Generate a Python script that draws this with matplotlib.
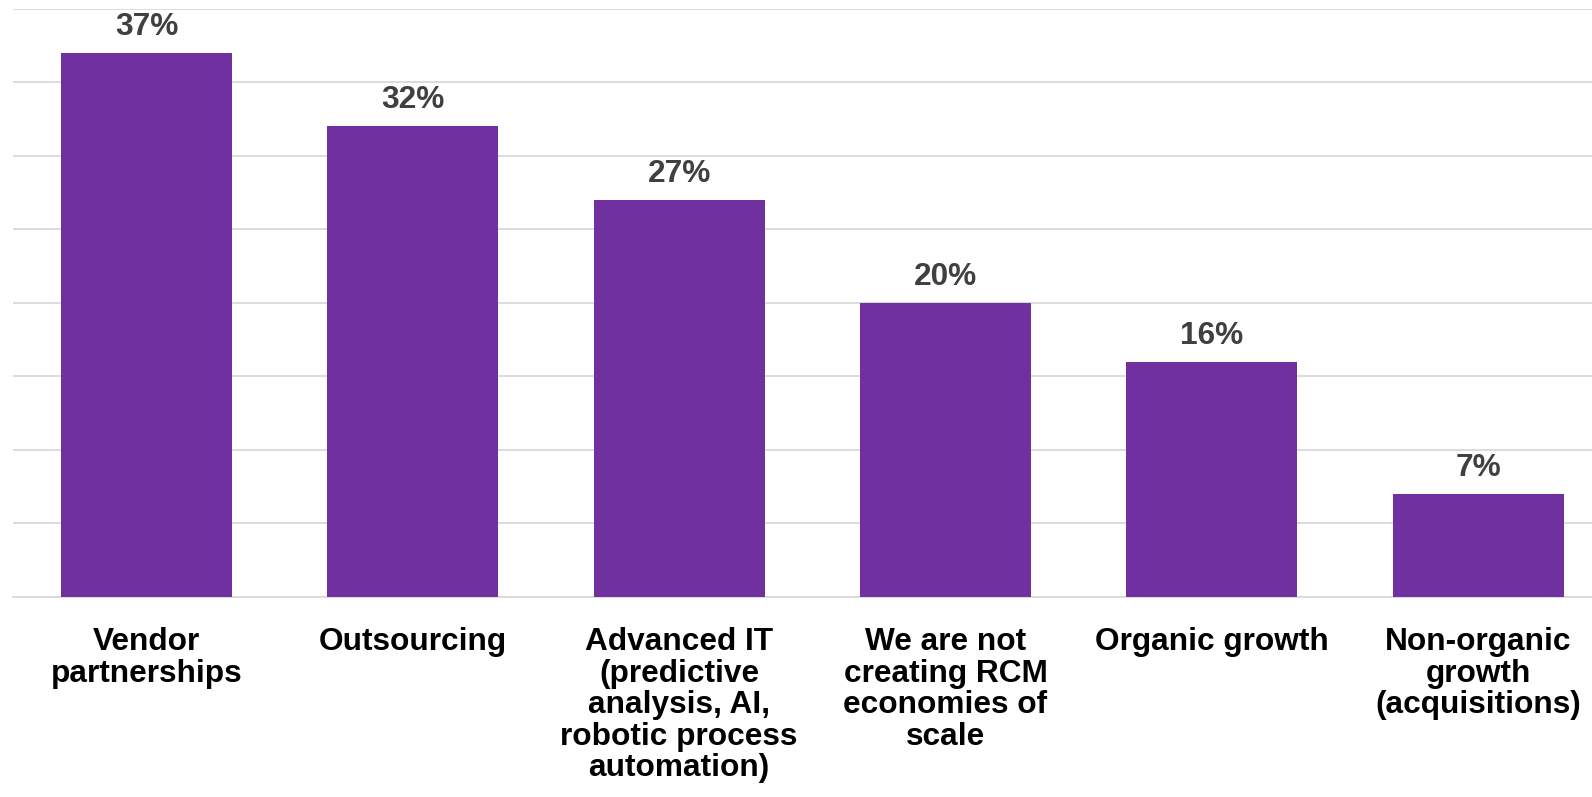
import matplotlib.pyplot as plt

categories = [
    "Vendor\npartnerships",
    "Outsourcing",
    "Advanced IT\n(predictive\nanalysis, AI,\nrobotic process\nautomation)",
    "We are not\ncreating RCM\neconomies of\nscale",
    "Organic growth",
    "Non-organic\ngrowth\n(acquisitions)",
]
values = [37, 32, 27, 20, 16, 7]
yticks = [0, 5, 10, 15, 20, 25, 30, 35, 40]

plt.rcParams['font.family'] = ['Liberation Sans', 'DejaVu Sans']

fig = plt.figure(figsize=(15.92, 7.97), dpi=100)
# plot area runs a little past the right edge of the canvas
ax = fig.add_axes([0.00839, 0.2509, 1.0037, 0.7384])

x = list(range(len(categories)))
bars = ax.bar(x, values, width=0.642, color='#7030A0', zorder=3)

ax.set_xlim(-0.5, len(categories) - 0.5)
ax.set_ylim(0, 40)
ax.set_yticks(yticks)
ax.yaxis.grid(True, color='#D9D9D9', linewidth=1.3, zorder=0)
ax.tick_params(axis='y', left=False, labelleft=False)
ax.tick_params(axis='x', length=0, pad=21.5)
ax.set_xticks(x)
ax.set_xticklabels(categories, fontsize=22.8, fontweight='bold',
                   linespacing=1.07, color='black', va='top')
for side in ['top', 'right', 'left']:
    ax.spines[side].set_visible(False)
ax.spines['bottom'].set_color('#D9D9D9')
ax.spines['bottom'].set_linewidth(1.3)

for b, v in zip(bars, values):
    ax.annotate(f"{v}%", (b.get_x() + b.get_width() / 2, v),
                xytext=(0, 8), textcoords='offset points',
                ha='center', va='bottom', fontsize=22.8,
                fontweight='bold', color='#404040')

fig.savefig('out.png', dpi=100)
